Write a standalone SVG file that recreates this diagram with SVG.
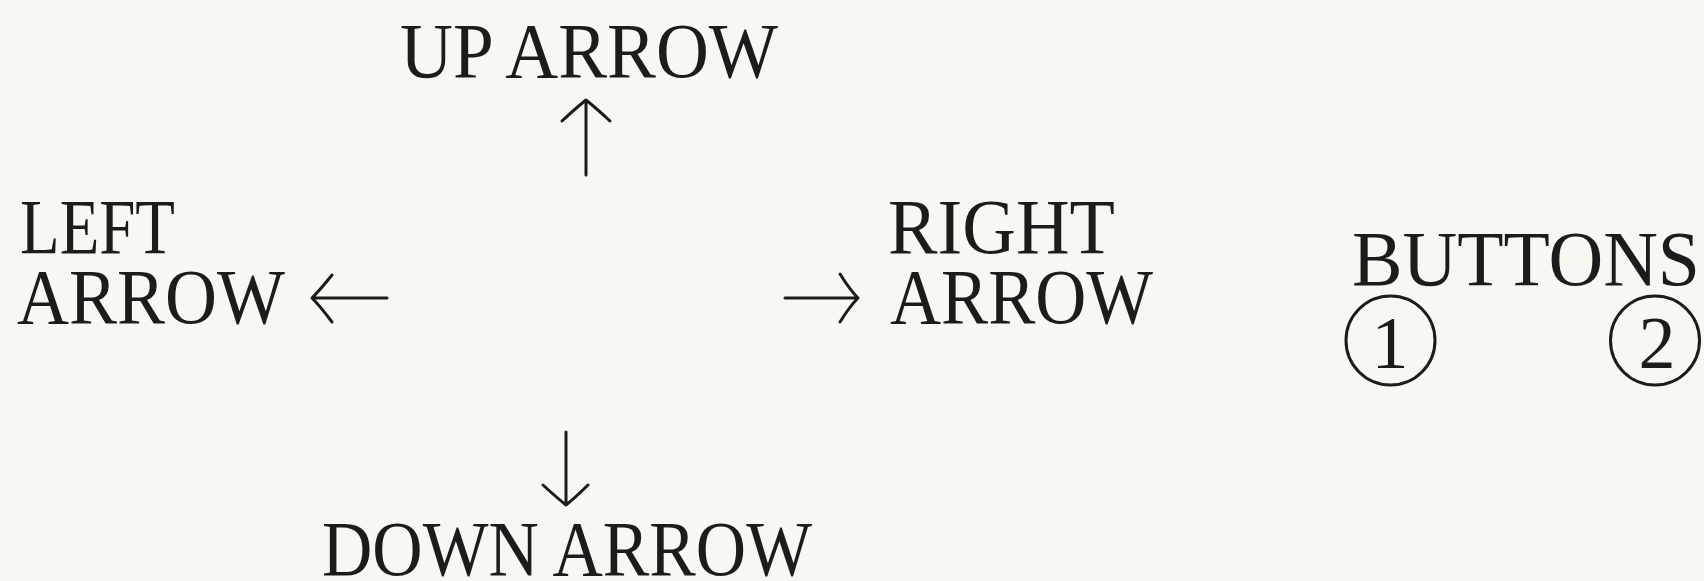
<svg xmlns="http://www.w3.org/2000/svg" width="1704" height="581" viewBox="0 0 1704 581">
<style>
.t{font-family:"Liberation Serif","Times New Roman",serif;font-size:78px;fill:#1c1c1c}
.d{font-family:"Liberation Serif","Times New Roman",serif;font-size:74px;fill:#1c1c1c;text-anchor:middle}
.a{fill:none;stroke:#1c1c1c;stroke-width:3;stroke-linecap:round;stroke-linejoin:round}
.c{fill:none;stroke:#1c1c1c;stroke-width:3}
</style>
<rect width="1704" height="581" fill="#f8f7f2"/>
<g id="up">
<text class="t" x="400" y="77" textLength="378" lengthAdjust="spacingAndGlyphs">UP ARROW</text>
</g>
<g id="left">
<text class="t" x="20" y="253" textLength="155" lengthAdjust="spacingAndGlyphs">LEFT</text>
<text class="t" x="17" y="323" textLength="268" lengthAdjust="spacingAndGlyphs">ARROW</text>
</g>
<g id="right">
<text class="t" x="888" y="253" textLength="227" lengthAdjust="spacingAndGlyphs">RIGHT</text>
<text class="t" x="890" y="323" textLength="263" lengthAdjust="spacingAndGlyphs">ARROW</text>
</g>
<g id="down">
<text class="t" x="322" y="575" textLength="490" lengthAdjust="spacingAndGlyphs">DOWN ARROW</text>
</g>
<g id="buttons">
<text class="t" x="1352" y="285" textLength="348" lengthAdjust="spacingAndGlyphs">BUTTONS</text>
<circle class="c" cx="1390.5" cy="340.5" r="44.5"/>
<text class="d" x="1390" y="368">1</text>
<circle class="c" cx="1655" cy="340.5" r="44.5"/>
<text class="d" x="1657" y="368">2</text>
</g>
<g id="connectors">
<path class="a" d="M586 175 V100 M562 121 Q576 108 586 100 Q596 108 610 121"/>
<path class="a" d="M387 298 H312 M332 275 Q320 290 312 298 Q320 306 332 322"/>
<path class="a" d="M785 298 H858 M840 274 Q850 290 858 298 Q850 306 840 322"/>
<path class="a" d="M566 432 V505 M543 485 Q556 497 566 505 Q576 497 588 485"/>
</g>
</svg>
